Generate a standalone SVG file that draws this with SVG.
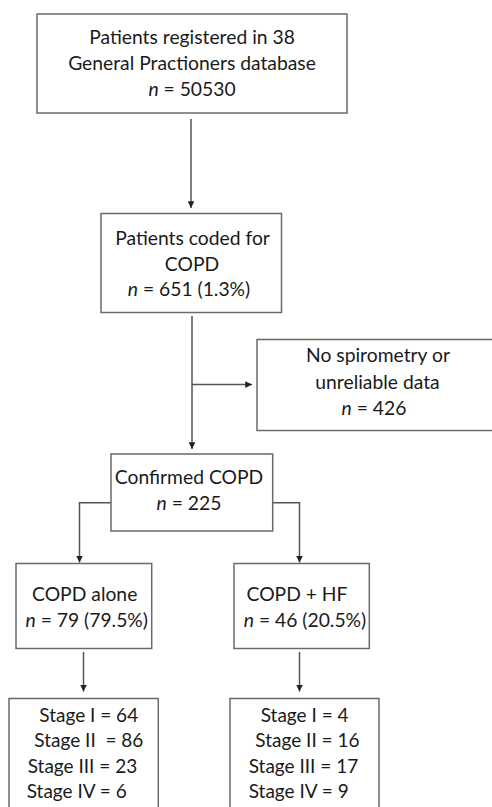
<svg xmlns="http://www.w3.org/2000/svg" width="492" height="807" viewBox="0 0 492 807">
<defs>
<style>
.box{fill:#fff;stroke:#6a6a6a;stroke-width:1.5}
.t{font-family:Lato,"Open Sans","Liberation Sans",sans-serif;font-size:19.3px;fill:#1a1a1a;text-anchor:middle}
.s{font-family:Lato,"Open Sans","Liberation Sans",sans-serif;font-size:19px;fill:#1a1a1a}
.i{font-style:italic}
.c{fill:none;stroke:#555;stroke-width:1.5}
</style>
<marker id="ah" viewBox="0 0 10 10" refX="10" refY="5" markerWidth="4.5" markerHeight="4.5" orient="auto" markerUnits="strokeWidth">
<path d="M0,0 L10,5 L0,10 z" fill="#222"/>
</marker>
</defs>
<rect width="492" height="807" fill="#fff"/>
<g id="connectors">
<line class="c" x1="191" y1="119" x2="191" y2="208" marker-end="url(#ah)"/>
<line class="c" x1="192" y1="316" x2="192" y2="449" marker-end="url(#ah)"/>
<line class="c" x1="192" y1="384.5" x2="252" y2="384.5" marker-end="url(#ah)"/>
<polyline class="c" points="111,502.7 79.5,502.7 79.5,562.5" marker-end="url(#ah)"/>
<polyline class="c" points="272.7,502.7 299.5,502.7 299.5,562.5" marker-end="url(#ah)"/>
<line class="c" x1="83.5" y1="652" x2="83.5" y2="691.5" marker-end="url(#ah)"/>
<line class="c" x1="299.5" y1="652" x2="299.5" y2="691.5" marker-end="url(#ah)"/>
</g>
<g id="n1">
<rect class="box" x="37" y="14" width="310" height="99"/>
<text class="t" x="192" y="44">Patients registered in 38</text>
<text class="t" x="192" y="70">General Practioners database</text>
<text class="t" x="192" y="96"><tspan class="i">n</tspan> = 50530</text>
</g>
<g id="n2">
<rect class="box" x="101" y="213.5" width="180.5" height="99"/>
<text class="t" x="192.5" y="245">Patients coded for</text>
<text class="t" x="192" y="270.5">COPD</text>
<text class="t" x="189" y="296"><tspan class="i">n</tspan> = 651 (1.3%)</text>
</g>
<g id="n3">
<rect class="box" x="257" y="339.5" width="245" height="91"/>
<text class="t" x="378" y="362">No spirometry or</text>
<text class="t" x="377.5" y="389">unreliable data</text>
<text class="t" x="374" y="415"><tspan class="i">n</tspan> = 426</text>
</g>
<g id="n4">
<rect class="box" x="111" y="454" width="161.7" height="77"/>
<text class="t" x="189" y="484">Confirmed COPD</text>
<text class="t" x="189" y="510"><tspan class="i">n</tspan> = 225</text>
</g>
<g id="n5">
<rect class="box" x="16" y="563.5" width="135.7" height="85"/>
<text class="t" x="84.7" y="600.7">COPD alone</text>
<text class="t" x="86.7" y="626.7"><tspan class="i">n</tspan> = 79 (79.5%)</text>
</g>
<g id="n6">
<rect class="box" x="234" y="563.5" width="135.3" height="85"/>
<text class="t" x="297" y="600.7">COPD + HF</text>
<text class="t" x="305" y="626.7"><tspan class="i">n</tspan> = 46 (20.5%)</text>
</g>
<g id="n7">
<rect class="box" x="9" y="698.5" width="149.3" height="120"/>
<text class="s" x="39.3" y="721.7">Stage I = 64</text>
<text class="s" x="34.3" y="747.3">Stage II&#160; = 86</text>
<text class="s" x="27.7" y="772.7">Stage III = 23</text>
<text class="s" x="26.7" y="798.3">Stage IV = 6</text>
</g>
<g id="n8">
<rect class="box" x="230" y="698.5" width="149" height="120"/>
<text class="s" x="260.7" y="721.7">Stage I = 4</text>
<text class="s" x="255.3" y="747.3">Stage II = 16</text>
<text class="s" x="248.7" y="772.7">Stage III = 17</text>
<text class="s" x="248.7" y="798.3">Stage IV = 9</text>
</g>
</svg>
